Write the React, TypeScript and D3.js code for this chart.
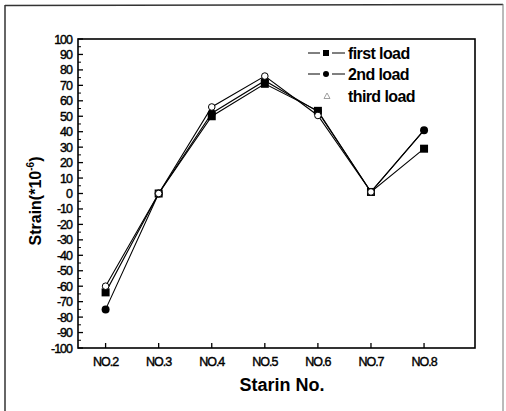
import React from "react";
import * as d3 from "d3";

const categories = ["NO.2", "NO.3", "NO.4", "NO.5", "NO.6", "NO.7", "NO.8"];
const categoryPos = [2, 3, 4, 5, 6, 7, 8];
const firstLoad = [-64, 0, 50, 71, 53.5, 1, 29];
const secondLoad = [-75, 0, 52, 73, 53, 1, 41];
const thirdLoad = [-60, 0, 56, 76, 50.5, 1, 41];
const yTicks = d3.range(-100, 101, 10);
const yMinorTicks = d3.range(-95, 100, 10);
const legendLabels = ["first load", "2nd load", "third load"];

const W = 506, H = 411;
const L = 78, R = 475, T = 39, B = 348;
const font = "'Liberation Sans', Arial, sans-serif";

export default function App() {
  const x = d3.scaleLinear().domain([1.48, 8.96]).range([L, R]);
  const y = d3.scaleLinear().domain([-100, 100]).range([B, T]);
  const line = d3
    .line<number>()
    .x((_, i) => x(categoryPos[i]))
    .y((d) => y(d));

  return (
    <svg width={W} height={H} style={{ position: "absolute", left: 0, top: 0, background: "#fff" }}>
      <rect x={0} y={0} width={W} height={H} fill="#fff" />
      {/* outer border */}
      <line x1={5} y1={5.5} x2={503} y2={4.5} stroke="#333" strokeWidth={1.5} />
      <line x1={5} y1={5} x2={5} y2={411} stroke="#333" strokeWidth={1.5} />
      <line x1={503} y1={4} x2={503} y2={411} stroke="#777" strokeWidth={1} />

      {/* frame */}
      <rect x={L} y={T} width={R - L} height={B - T} fill="none" stroke="#000" strokeWidth={1.6} />

      {/* y ticks */}
      {yTicks.map((t) => (
        <g key={"y" + t}>
          <line x1={L} x2={L + 5} y1={y(t)} y2={y(t)} stroke="#000" strokeWidth={1.3} />
          <text
            x={72}
            y={y(t)}
            dy="0.36em"
            textAnchor="end"
            fontFamily={font}
            fontSize={12.5}
            letterSpacing={-1}
            fill="#000"
            stroke="#000"
            strokeWidth={0.4}
          >
            {t}
          </text>
        </g>
      ))}
      {yMinorTicks.map((t) => (
        <line key={"ym" + t} x1={L} x2={L + 3} y1={y(t)} y2={y(t)} stroke="#000" strokeWidth={1} />
      ))}

      {/* x ticks */}
      {categories.map((c, i) => (
        <g key={c}>
          <line x1={x(categoryPos[i])} x2={x(categoryPos[i])} y1={B} y2={B - 5} stroke="#000" strokeWidth={1.3} />
          <text
            x={x(categoryPos[i])}
            y={366}
            textAnchor="middle"
            fontFamily={font}
            fontSize={12.5}
            letterSpacing={-1}
            fill="#000"
            stroke="#000"
            strokeWidth={0.4}
          >
            {c}
          </text>
        </g>
      ))}

      {/* lines */}
      <path d={line(firstLoad) || ""} fill="none" stroke="#000" strokeWidth={1.1} />
      <path d={line(secondLoad) || ""} fill="none" stroke="#000" strokeWidth={1.1} />
      <path d={line(thirdLoad) || ""} fill="none" stroke="#000" strokeWidth={1.1} />

      {/* markers */}
      {secondLoad.map((v, i) => (
        <circle key={"c" + i} cx={x(categoryPos[i])} cy={y(v)} r={4} fill="#000" />
      ))}
      {firstLoad.map((v, i) => (
        <rect key={"s" + i} x={x(categoryPos[i]) - 4} y={y(v) - 4} width={8} height={8} fill="#000" />
      ))}
      {thirdLoad.map((v, i) =>
        i === 6 ? null : (
          <circle
            key={"t" + i}
            cx={x(categoryPos[i])}
            cy={y(v)}
            r={3.3}
            fill="#fff"
            stroke="#000"
            strokeWidth={1}
          />
        )
      )}

      {/* legend */}
      <g fontFamily={font} fontWeight="bold" fontSize={16} letterSpacing={-0.6} fill="#000">
        <line x1={308} x2={320} y1={53} y2={53} stroke="#000" strokeWidth={1} />
        <line x1={332} x2={345} y1={53} y2={53} stroke="#000" strokeWidth={1} />
        <rect x={323} y={50} width={6} height={6} fill="#000" />
        <text x={348} y={53} dy="0.35em">{legendLabels[0]}</text>
        <line x1={308} x2={320} y1={74} y2={74} stroke="#000" strokeWidth={1} />
        <line x1={332} x2={345} y1={74} y2={74} stroke="#000" strokeWidth={1} />
        <circle cx={326} cy={74} r={3} fill="#000" />
        <text x={348} y={74} dy="0.35em">{legendLabels[1]}</text>
        <path d="M327,93 L330,98.5 L324,98.5 Z" fill="none" stroke="#888" strokeWidth={0.8} />
        <text x={348} y={96} dy="0.35em">{legendLabels[2]}</text>
      </g>

      {/* axis titles */}
      <text x={282} y={391} textAnchor="middle" fontFamily={font} fontWeight="bold" fontSize={18} fill="#000">
        Starin No.
      </text>
      <text
        transform={`translate(41,201) rotate(-90)`}
        textAnchor="middle"
        fontFamily={font}
        fontWeight="bold"
        fontSize={16}
        fill="#000"
      >
        Strain(*10
        <tspan fontSize={10} dy={-7}>-6</tspan>
        <tspan dy={7}>)</tspan>
      </text>
    </svg>
  );
}
